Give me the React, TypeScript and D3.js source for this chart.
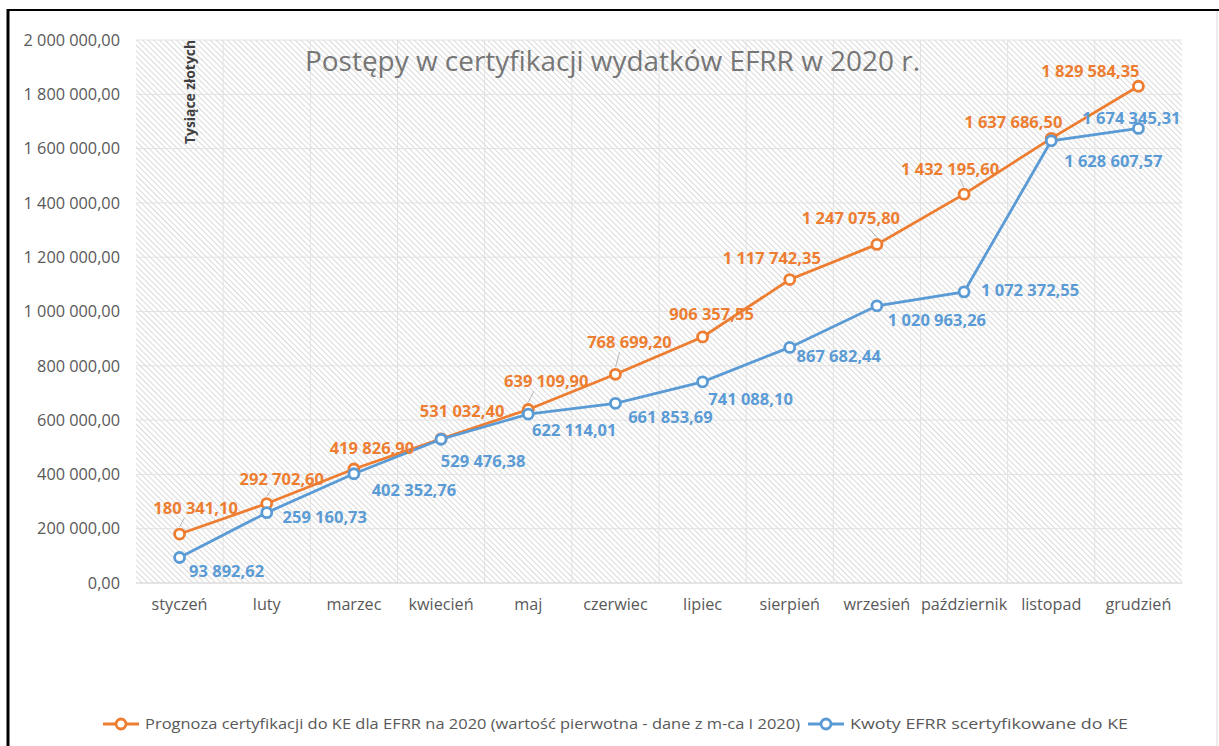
import React, { useEffect, useRef } from 'react';
import * as d3 from 'd3';

const months = ['styczeń', 'luty', 'marzec', 'kwiecień', 'maj', 'czerwiec', 'lipiec', 'sierpień', 'wrzesień', 'październik', 'listopad', 'grudzień'];

const forecast = [180341.10, 292702.60, 419826.90, 531032.40, 639109.90, 768699.20, 906357.55, 1117742.35, 1247075.80, 1432195.60, 1637686.50, 1829584.35];

const certified = [93892.62, 259160.73, 402352.76, 529476.38, 622114.01, 661853.69, 741088.10, 867682.44, 1020963.26, 1072372.55, 1628607.57, 1674345.31];

const yTicks = [0, 200000, 400000, 600000, 800000, 1000000, 1200000, 1400000, 1600000, 1800000, 2000000];

const forecastName = 'Prognoza certyfikacji do KE dla EFRR na 2020 (wartość pierwotna - dane z m-ca I 2020)';
const certifiedName = 'Kwoty EFRR scertyfikowane do KE';

// label placement relative to the point (Excel-like manual placement)
const forecastLabelShift = [[16, -26], [15, -24], [18, -21], [21, -28], [18, -28], [14, -32], [9, -23], [-18, -21], [-26, -26], [-14, -25], [-38, -16], [-48, -15]];
const certifiedLabelShift = [[47, 14], [58, 5], [60, 16], [42, 22], [46, 16], [55, 14], [48, 17], [49, 9], [60, 14], [66, -2], [62, 20], [-7, -10]];
const forecastLeaders = [0, 1, 4, 5, 7, 8, 9];

const ORANGE = '#ED7D31';
const BLUE = '#5B9BD5';
const FONT = 'Open Sans, sans-serif';

// "2 000 000,00"
const fmt = (v: number) => {
    const [int, dec] = v.toFixed(2).split('.');
    return int.replace(/\B(?=(\d{3})+(?!\d))/g, ' ') + ',' + dec;
};

const Chart = () => {
    const ref = useRef<SVGSVGElement | null>(null);

    useEffect(() => {
        const svg = d3.select(ref.current);
        svg.selectAll('*').remove();

        const width = 1219;
        const height = 746;
        const margin = { top: 40, right: 37, bottom: 163, left: 136 };
        const innerW = width - margin.left - margin.right;
        const innerH = height - margin.top - margin.bottom;

        const defs = svg.append('defs');
        const pat = defs.append('pattern')
            .attr('id', 'hatch')
            .attr('patternUnits', 'userSpaceOnUse')
            .attr('width', 4)
            .attr('height', 4)
            .attr('patternTransform', 'rotate(-45)');
        pat.append('rect').attr('width', 4).attr('height', 4).attr('fill', '#ffffff');
        pat.append('line')
            .attr('x1', 0).attr('y1', 0).attr('x2', 0).attr('y2', 4)
            .attr('stroke', '#c6c6c6').attr('stroke-width', 1.3);

        svg.append('rect').attr('width', width).attr('height', height).attr('fill', '#fff');

        // frame
        svg.append('line').attr('x1', 7).attr('x2', width).attr('y1', 10).attr('y2', 10)
            .attr('stroke', '#000').attr('stroke-width', 2);
        svg.append('line').attr('x1', 8).attr('x2', 8).attr('y1', 9).attr('y2', height)
            .attr('stroke', '#000').attr('stroke-width', 3);
        svg.append('line').attr('x1', 1217).attr('x2', 1217).attr('y1', 11).attr('y2', height)
            .attr('stroke', '#d9d9d9').attr('stroke-width', 1);

        const x = d3.scaleBand().domain(months).range([0, innerW]);
        const y = d3.scaleLinear().domain([0, 2000000]).range([innerH, 0]);
        const cx = (i: number) => (x(months[i]) as number) + x.bandwidth() / 2;

        const g = svg.append('g').attr('transform', `translate(${margin.left},${margin.top})`);

        g.append('rect').attr('width', innerW).attr('height', innerH).attr('fill', 'url(#hatch)');

        // grid
        g.selectAll('.hgrid').data(yTicks).enter().append('line')
            .attr('x1', 0).attr('x2', innerW)
            .attr('y1', d => y(d)).attr('y2', d => y(d))
            .attr('stroke', '#e2e2e2').attr('stroke-width', 1);
        g.selectAll('.vgrid').data(months.slice(1)).enter().append('line')
            .attr('x1', d => x(d) as number).attr('x2', d => x(d) as number)
            .attr('y1', 0).attr('y2', innerH)
            .attr('stroke', '#e2e2e2').attr('stroke-width', 1);
        g.append('line').attr('x1', 0).attr('x2', innerW).attr('y1', innerH).attr('y2', innerH)
            .attr('stroke', '#d9d9d9').attr('stroke-width', 1);

        // y axis labels
        g.selectAll('.ylab').data(yTicks).enter().append('text')
            .attr('x', -16).attr('y', d => y(d)).attr('dy', '0.35em')
            .attr('text-anchor', 'end')
            .attr('font-family', FONT).attr('font-size', 16.3)
            .attr('fill', '#595959')
            .text(d => fmt(d));

        // x axis labels
        g.selectAll('.xlab').data(months).enter().append('text')
            .attr('x', (d, i) => cx(i)).attr('y', innerH + 21).attr('dy', '0.35em')
            .attr('text-anchor', 'middle')
            .attr('font-family', FONT).attr('font-size', 16.2)
            .attr('fill', '#595959')
            .text(d => d);

        // axis title
        g.append('text')
            .attr('transform', `translate(54, 52) rotate(-90)`)
            .attr('text-anchor', 'middle').attr('dy', '0.35em')
            .attr('font-family', FONT).attr('font-size', 14.5).attr('font-weight', 'bold')
            .attr('textLength', 104).attr('lengthAdjust', 'spacingAndGlyphs')
            .attr('fill', '#404040')
            .text('Tysiące złotych');

        // title
        g.append('text')
            .attr('x', 169).attr('y', 22).attr('dy', '0.35em')
            .attr('font-family', FONT).attr('font-size', 27)
            .attr('textLength', 615).attr('lengthAdjust', 'spacingAndGlyphs')
            .attr('fill', '#767676')
            .text('Postępy w certyfikacji wydatków EFRR w 2020 r.');

        const line = d3.line<number>().x((d, i) => cx(i)).y(d => y(d));

        // leader lines
        g.selectAll('.leader').data(forecastLeaders).enter().append('line')
            .attr('x1', i => cx(i)).attr('y1', i => y(forecast[i]) - 7)
            .attr('x2', i => cx(i) + forecastLabelShift[i][0] * 0.3).attr('y2', i => y(forecast[i]) + forecastLabelShift[i][1] + 10)
            .attr('stroke', '#a6a6a6').attr('stroke-width', 0.8);

        const series = [
            { values: forecast, color: ORANGE, shift: forecastLabelShift },
            { values: certified, color: BLUE, shift: certifiedLabelShift },
        ];

        series.forEach(s => {
            g.append('path')
                .datum(s.values)
                .attr('fill', 'none')
                .attr('stroke', s.color)
                .attr('stroke-width', 2.8)
                .attr('d', line);
        });

        series.forEach(s => {
            g.selectAll(null).data(s.values).enter().append('circle')
                .attr('cx', (d, i) => cx(i)).attr('cy', d => y(d)).attr('r', 5)
                .attr('fill', '#fff').attr('stroke', s.color).attr('stroke-width', 2.8);
        });

        series.forEach(s => {
            g.selectAll(null).data(s.values).enter().append('text')
                .attr('x', (d, i) => cx(i) + s.shift[i][0])
                .attr('y', (d, i) => y(d) + s.shift[i][1])
                .attr('dy', '0.35em')
                .attr('text-anchor', 'middle')
                .attr('font-family', FONT).attr('font-size', 16.5).attr('font-weight', 'bold')
                .attr('fill', s.color)
                .text(d => fmt(d));
        });

        // legend
        const legend = svg.append('g').attr('transform', 'translate(0, 724)');
        const items = [
            { name: forecastName, color: ORANGE, x: 103, len: 655 },
            { name: certifiedName, color: BLUE, x: 808, len: 278 },
        ];
        items.forEach(it => {
            legend.append('line').attr('x1', it.x).attr('x2', it.x + 36).attr('y1', 0).attr('y2', 0)
                .attr('stroke', it.color).attr('stroke-width', 2.8);
            legend.append('circle').attr('cx', it.x + 18).attr('cy', 0).attr('r', 5)
                .attr('fill', '#fff').attr('stroke', it.color).attr('stroke-width', 2.8);
            legend.append('text').attr('x', it.x + 42).attr('y', 0).attr('dy', '0.35em')
                .attr('font-family', FONT).attr('font-size', 15)
                .attr('textLength', it.len).attr('lengthAdjust', 'spacingAndGlyphs')
                .attr('fill', '#595959')
                .text(it.name);
        });
    }, []);

    return (
        <svg
            ref={ref}
            width={1219}
            height={746}
            style={{ position: 'absolute', left: 0, top: 0, display: 'block' }}
        />
    );
};

export default function App() {
    return <Chart />;
}
